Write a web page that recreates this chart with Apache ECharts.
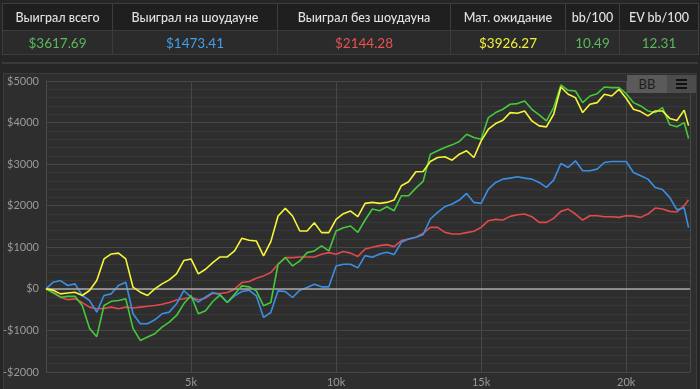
<!DOCTYPE html>
<html>
<head>
<meta charset="utf-8">
<script src="https://cdn.jsdelivr.net/npm/echarts@6/dist/echarts.min.js"></script>
<style>
  html, body { margin:0; padding:0; width:700px; height:389px; background:#262626; overflow:hidden;
    font-family: Lato, "Noto Sans", "Open Sans", sans-serif; }
  #stats { position:absolute; left:2px; top:3px; width:696px; border-collapse:collapse; z-index:2;
    border:1px solid #3d3d3d; table-layout:fixed; }
  #stats td, #stats th { text-align:center; padding:0; border-left:1px solid #3d3d3d; white-space:nowrap; }
  #stats th { height:26px; background:#1f1f1f; color:#e2e2e2; font-weight:500; font-size:12.5px; }
  #stats td { height:23px; background:#2b2b2b; color:#ccc; font-size:13.5px; border-top:1px solid #3d3d3d; }
  #sep { position:absolute; left:2px; top:62px; width:696px; height:2px; background:#3a3a3a; }
  #panel { position:absolute; left:3px; top:73px; width:694px; height:320px; background:#2e2e2e;
    border:1px solid #3c3c3c; box-sizing:border-box; }
  #chart { position:absolute; left:0; top:0; width:700px; height:389px; z-index:1; }
  #bb { position:absolute; left:627px; top:75px; width:40px; height:18px; background:#5a5a5a; color:#1e1e1e;
    font-size:13px; line-height:18px; text-align:center; z-index:3; }
  #menu { position:absolute; left:667px; top:75px; width:29px; height:18px; background:#4c4c4c; z-index:3; }
  #menu i { position:absolute; left:9px; width:11px; height:2px; background:#111; }
</style>
</head>
<body>
<table id="stats">
  <colgroup><col style="width:110px"><col style="width:165px"><col style="width:173px"><col style="width:115px"><col style="width:54px"><col style="width:79px"></colgroup>
  <tr><th id="h0"></th><th id="h1"></th><th id="h2"></th><th id="h3"></th><th id="h4"></th><th id="h5"></th></tr>
  <tr><td id="v0"></td><td id="v1"></td><td id="v2"></td><td id="v3"></td><td id="v4"></td><td id="v5"></td></tr>
</table>
<div id="sep"></div>
<div id="panel"></div>
<div id="chart"></div>
<div id="bb">BB</div>
<div id="menu"><i style="top:4px"></i><i style="top:8px"></i><i style="top:12px"></i></div>
<script>
// ---- data ----
const statLabels = ["Выиграл всего","Выиграл на шоудауне","Выиграл без шоудауна","Мат. ожидание","bb/100","EV bb/100"];
const statValues = ["$3617.69","$1473.41","$2144.28","$3926.27","10.49","12.31"];
const statColors = ["#5cb85c","#3fa0ee","#e55353","#f0f03c","#5cb85c","#5cb85c"];

const handStep = 250;      // hands between samples
const lastHand = 22150;    // hand count of the final sample

const totalWon = [0,-100,-200,-180,-180,-400,-950,-1150,-400,-300,-280,-240,-950,-1240,-1160,-1080,-920,-800,-640,-360,-160,-600,
  -528,-304,-144,-328,-128,72,48,-48,-408,-328,592,752,552,672,872,912,1032,912,1392,1472,1512,
  1360,1656,1920,1880,1976,1880,2240,2240,2424,2584,3240,3320,3400,3464,3544,3720,3640,3600,4120,4240,4320,
  4440,4456,4520,4320,4184,4040,4360,4904,4776,4760,4480,4640,4696,4856,4840,4840,4696,4480,4400,4280,4240,4360,3950,3900,4000,3617.69];
const showdownWon = [0,160,200,80,120,-160,-280,-560,-160,-120,80,160,-600,-840,-840,-744,-600,-560,-360,-40,-200,-320,
  -192,-88,-144,-328,-168,-64,-32,-168,-688,-568,-48,-64,-208,-32,32,112,48,48,552,592,592,
  504,800,760,840,880,824,1120,1200,1240,1304,1680,1840,1976,2040,2136,2296,2080,2056,2400,2560,2640,
  2664,2696,2664,2640,2560,2440,2616,3016,2920,3080,2840,2840,2880,3040,3064,3064,3064,2800,2720,2640,2440,2392,2200,1900,1950,1473.41];
const nonShowdownWon = [0,-60,-200,-260,-240,-330,-440,-480,-470,-440,-480,-440,-460,-440,-420,-400,-370,-330,-270,-240,-200,-260,
  -224,-104,-112,-88,-8,152,176,256,312,392,592,752,752,768,768,768,832,872,832,900,860,
  780,960,1000,1040,1064,1016,1160,1200,1240,1336,1480,1480,1360,1320,1320,1352,1384,1480,1640,1672,1656,
  1744,1784,1800,1736,1600,1600,1696,1864,1920,1800,1656,1760,1760,1736,1736,1720,1760,1752,1720,1800,1944,1920,1864,1850,2000,2144.28];
const allInEV = [0,-30,-120,-100,-80,-160,-40,200,720,840,860,720,40,-80,-160,0,120,216,360,680,720,360,
  472,632,768,768,912,1216,1168,1152,792,1136,1752,1936,1752,1392,1392,1592,1352,1352,1672,1808,1872,
  1736,2056,2080,2056,2080,2136,2480,2576,2816,2824,3064,3160,3176,3096,3240,3320,3160,3560,3840,3976,4056,
  4240,4224,4280,4040,3920,3896,4200,4856,4680,4600,4240,4440,4480,4680,4640,4800,4584,4320,4264,4160,4280,4280,4100,4050,4300,3926.27];

const yTicks = [-2000,-1000,0,1000,2000,3000,4000,5000];
const xTicks = [5000,10000,15000,20000];

// ---- header ----
statLabels.forEach((t,i)=>{ document.getElementById('h'+i).textContent=t; });
statValues.forEach((v,i)=>{ const el=document.getElementById('v'+i); el.textContent=v; el.style.color=statColors[i]; });

function toPairs(arr){
  return arr.map((v,i)=>[i===arr.length-1 ? lastHand : i*handStep, v]);
}

const chart = echarts.init(document.getElementById('chart'), null, {renderer:'canvas'});
const mk = (name, data, color, z) => ({
  name, type:'line', data:toPairs(data), showSymbol:false, symbol:'none', z,
  lineStyle:{color, width:1.6}, itemStyle:{color}, animation:false
});
const series = [
  mk('Выиграл без шоудауна', nonShowdownWon, '#e04a4a', 3),
  mk('Выиграл на шоудауне', showdownWon, '#3a8fe4', 4),
  mk('Выиграл всего', totalWon, '#46c83c', 5),
  mk('Мат. ожидание', allInEV, '#f5f53a', 6)
];
series[0].markLine = { silent:true, symbol:'none', label:{show:false}, animation:false,
  lineStyle:{color:'#a8a8a8', width:1.5, type:'solid'}, data:[{yAxis:0}] };
series[0].z = 2;

chart.setOption({
  backgroundColor:'transparent',
  animation:false,
  grid:{left:43, right:10, top:81, bottom:17},
  xAxis:{type:'value', min:0, max:22200, interval:5000,
    axisLine:{show:true, lineStyle:{color:'#4a4a4a'}}, axisTick:{show:false},
    axisLabel:{color:'#9a9a9a', fontSize:11, fontFamily:'Lato, "Noto Sans", sans-serif', margin:5,
      formatter:v => xTicks.includes(v) ? (v/1000)+'k' : ''},
    splitLine:{show:true, lineStyle:{color:'#474747'}}},
  yAxis:{type:'value', min:yTicks[0], max:yTicks[yTicks.length-1], interval:1000,
    axisLine:{show:true, lineStyle:{color:'#4a4a4a'}}, axisTick:{show:false},
    axisLabel:{color:'#9a9a9a', fontSize:11, fontFamily:'Lato, "Noto Sans", sans-serif', margin:7,
      formatter:v => (v<0?'-$':'$')+Math.abs(v)},
    splitLine:{show:true, lineStyle:{color:'#474747'}},
    minorTick:{show:false, splitNumber:5},
    minorSplitLine:{show:true, lineStyle:{color:'#383838'}}},
  series
});
</script>
</body>
</html>
